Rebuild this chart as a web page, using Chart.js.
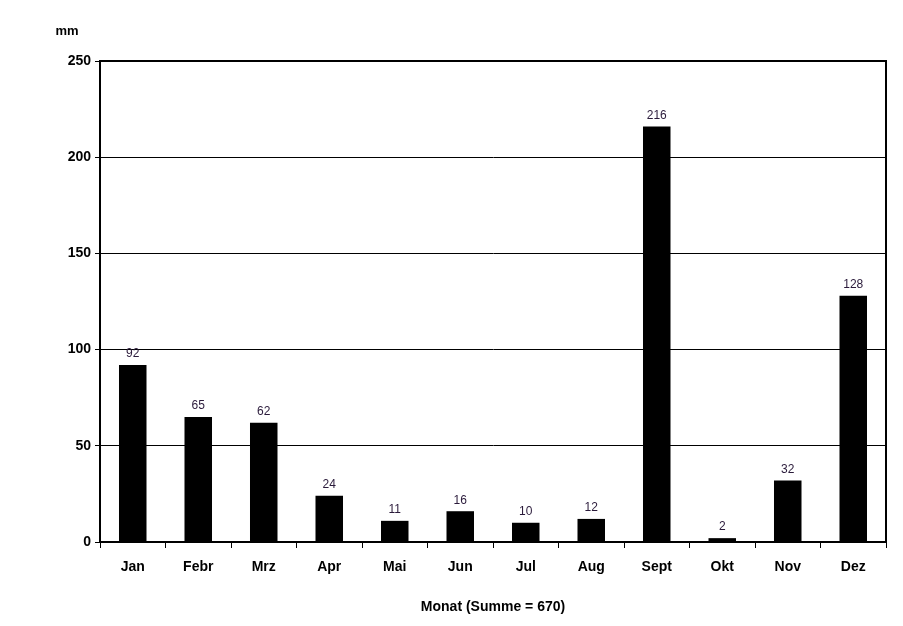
<!DOCTYPE html>
<html lang="de">
<head>
<meta charset="UTF-8">
<title>Niederschlag</title>
<script src="https://cdn.jsdelivr.net/npm/chart.js"></script>
<style>
  body { margin: 0; background: #fff; }
  #wrap { width: 903px; height: 626px; }
</style>
</head>
<body>
<div id="wrap"><canvas id="rainChart"></canvas></div>
<script>
const months = ['Jan', 'Febr', 'Mrz', 'Apr', 'Mai', 'Jun', 'Jul', 'Aug', 'Sept', 'Okt', 'Nov', 'Dez'];
const rain = [92, 65, 62, 24, 11, 16, 10, 12, 216, 2, 32, 128];
const yTicks = [0, 50, 100, 150, 200, 250];

const FONT = 'Arial, "Liberation Sans", sans-serif';

// value labels above bars, plus the "mm" unit at the top left
const extras = {
    id: 'extras',
    afterDatasetsDraw(chart) {
        const ctx = chart.ctx;
        const meta = chart.getDatasetMeta(0);
        ctx.save();
        ctx.font = '12px ' + FONT;
        ctx.fillStyle = '#2a1a3a';
        ctx.textAlign = 'center';
        ctx.textBaseline = 'bottom';
        meta.data.forEach((bar, i) => {
            ctx.fillText(String(rain[i]), bar.x, bar.y - 5);
        });
        ctx.font = 'bold 13px ' + FONT;
        ctx.fillStyle = '#000';
        ctx.textBaseline = 'middle';
        ctx.fillText('mm', 67, 31);
        // plot frame
        const a = chart.chartArea;
        ctx.strokeStyle = '#000';
        ctx.lineWidth = 2;
        ctx.strokeRect(a.left, a.top, a.right - a.left, a.bottom - a.top);
        ctx.restore();
    }
};

new Chart(document.getElementById('rainChart'), {
    type: 'bar',
    data: {
        labels: months,
        datasets: [{
            data: rain,
            backgroundColor: '#000',
            barPercentage: 0.42,
            categoryPercentage: 1.0
        }]
    },
    options: {
        responsive: true,
        maintainAspectRatio: false,
        animation: false,
        layout: { padding: { top: 61, right: 17, left: 0, bottom: 0 } },
        plugins: { legend: { display: false }, tooltip: { enabled: false } },
        scales: {
            x: {
                offset: true,
                grid: { display: true, offset: true, drawOnChartArea: false, color: '#000', tickLength: 6 },
                border: { color: '#000', width: 1 },
                ticks: { color: '#000', font: { family: FONT, size: 14, weight: 'bold' }, padding: 11 },
                title: {
                    display: true, text: 'Monat (Summe = 670)', color: '#000',
                    font: { family: FONT, size: 14, weight: 'bold' }, padding: { top: 18, bottom: 10 }
                },
                afterFit: s => { s.height = 84; }
            },
            y: {
                min: 0, max: 250,
                afterBuildTicks: s => { s.ticks = yTicks.map(v => ({ value: v })); },
                grid: { color: '#000', lineWidth: 1, tickLength: 5 },
                border: { color: '#000', width: 1 },
                ticks: { color: '#000', font: { family: FONT, size: 14, weight: 'bold' }, padding: 4 },
                afterFit: s => { s.width = 100; }
            }
        }
    },
    plugins: [extras]
});
</script>
</body>
</html>
